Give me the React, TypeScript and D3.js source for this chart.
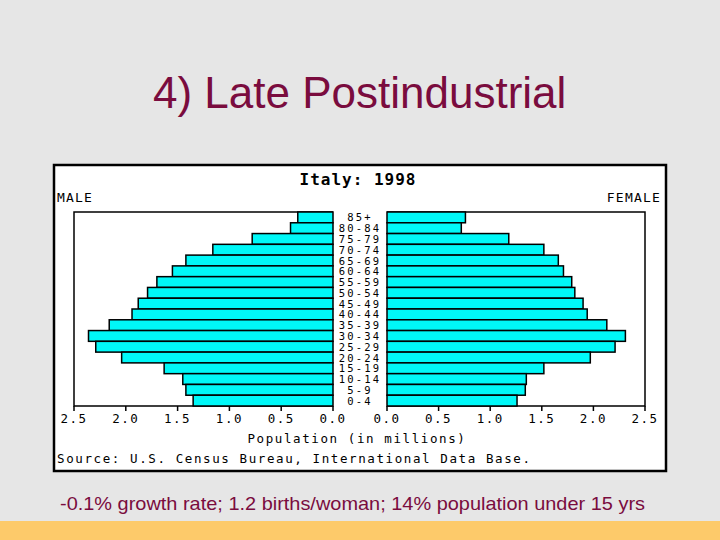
import React from "react";
import { scaleLinear, scaleBand } from "d3";

const ageGroups = [
  "85+", "80-84", "75-79", "70-74", "65-69", "60-64", "55-59", "50-54", "45-49",
  "40-44", "35-39", "30-34", "25-29", "20-24", "15-19", "10-14", "5-9", "0-4"
];
// population in millions, same order as ageGroups
const male = [0.34, 0.41, 0.78, 1.16, 1.42, 1.55, 1.7, 1.79, 1.88, 1.94, 2.16, 2.36, 2.29, 2.04, 1.63, 1.45, 1.42, 1.35];
const female = [0.76, 0.72, 1.18, 1.52, 1.66, 1.71, 1.79, 1.82, 1.9, 1.94, 2.13, 2.31, 2.21, 1.97, 1.52, 1.35, 1.34, 1.26];
const tickValues = [0, 0.5, 1, 1.5, 2, 2.5];
const tickLabels = ["0.0", "0.5", "1.0", "1.5", "2.0", "2.5"];

const W = 720;
const H = 540;
const mono = "'DejaVu Sans Mono', monospace";
const sans = "'Liberation Sans', Arial, sans-serif";
const maroon = "#7a0c3e";

export default function App() {
  const top = 212;
  const bottom = 406;
  const xMale = scaleLinear().domain([0, 2.5]).range([333, 74]);
  const xFemale = scaleLinear().domain([0, 2.5]).range([387, 645]);
  const y = scaleBand().domain(ageGroups).range([top, bottom]).padding(0);

  return (
    <div style={{ position: "fixed", left: 0, top: 0 }}>
      <svg width={W} height={H} style={{ display: "block" }}>
        <rect x={0} y={0} width={W} height={H} fill="#e6e6e6" />
        <rect x={0} y={521} width={W} height={19} fill="#fdca6a" />

        <text x={153} y={108} fontFamily={sans} fontSize={44} fill={maroon}>
          4) Late Postindustrial
        </text>

        {/* chart frame */}
        <rect x={54} y={165} width={612} height={306} fill="#fff" stroke="#000" strokeWidth={2.5} />

        <text x={358} y={185} textAnchor="middle" fontFamily={mono} fontWeight="bold" fontSize={16} letterSpacing={1}>
          Italy: 1998
        </text>
        <text x={57} y={202} fontFamily={mono} fontSize={13} letterSpacing={1.2}>MALE</text>
        <text x={661} y={202} textAnchor="end" fontFamily={mono} fontSize={13} letterSpacing={1.2}>FEMALE</text>

        {/* plot boxes */}
        <path
          d={`M${xMale(0)},${top}H${xMale(2.5)}V${bottom}H${xMale(0)}`}
          fill="none" stroke="#000" strokeWidth={1.5}
        />
        <path
          d={`M${xFemale(0)},${top}H${xFemale(2.5)}V${bottom}H${xFemale(0)}`}
          fill="none" stroke="#000" strokeWidth={1.5}
        />

        {/* bars */}
        {ageGroups.map((g, i) => (
          <g key={g}>
            <rect
              x={xMale(male[i])} y={y(g)!}
              width={xMale(0) - xMale(male[i])} height={y.bandwidth()}
              fill="#00f8f8" stroke="#000" strokeWidth={1.5}
            />
            <rect
              x={xFemale(0)} y={y(g)!}
              width={xFemale(female[i]) - xFemale(0)} height={y.bandwidth()}
              fill="#00f8f8" stroke="#000" strokeWidth={1.5}
            />
            <text
              x={360} y={y(g)! + y.bandwidth() / 2 + 4}
              textAnchor="middle" fontFamily={mono} fontSize={10.5} letterSpacing={2.2}
            >
              {g}
            </text>
          </g>
        ))}

        {/* axes ticks and labels */}
        {tickValues.map((v, i) => (
          <g key={"t" + i}>
            <line x1={xMale(v)} x2={xMale(v)} y1={bottom} y2={bottom + 5} stroke="#000" strokeWidth={1.5} />
            <line x1={xFemale(v)} x2={xFemale(v)} y1={bottom} y2={bottom + 5} stroke="#000" strokeWidth={1.5} />
            <text x={xMale(v)} y={423} textAnchor="middle" fontFamily={mono} fontSize={12.5} letterSpacing={1.5}>
              {tickLabels[i]}
            </text>
            <text x={xFemale(v)} y={423} textAnchor="middle" fontFamily={mono} fontSize={12.5} letterSpacing={1.5}>
              {tickLabels[i]}
            </text>
          </g>
        ))}

        <text x={357} y={443} textAnchor="middle" fontFamily={mono} fontSize={12.5} letterSpacing={1.6}>
          Population (in millions)
        </text>
        <text x={57} y={463} fontFamily={mono} fontSize={12.5} letterSpacing={1.6}>
          Source: U.S. Census Bureau, International Data Base.
        </text>

        <text x={60} y={510} fontFamily={sans} fontSize={19} fill={maroon} textLength={585} lengthAdjust="spacingAndGlyphs">
          -0.1% growth rate; 1.2 births/woman; 14% population under 15 yrs
        </text>
      </svg>
    </div>
  );
}
